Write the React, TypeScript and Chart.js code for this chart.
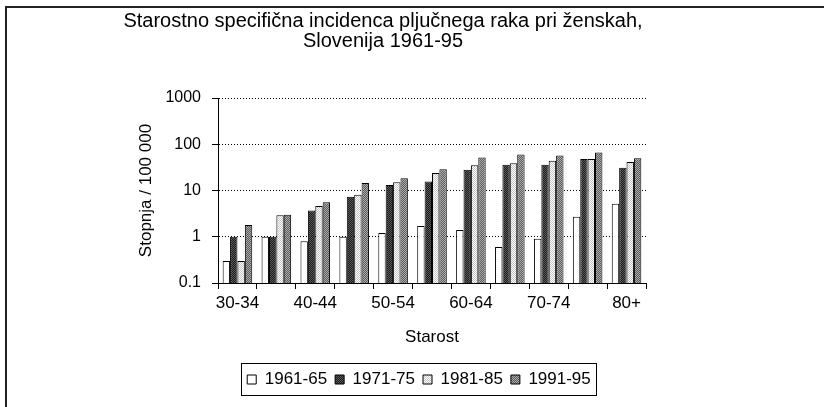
import React, { useEffect, useRef } from 'react';
import { Chart, registerables } from 'chart.js';

Chart.register(...registerables);

const categories = ['30-34', '35-39', '40-44', '45-49', '50-54', '55-59', '60-64', '65-69', '70-74', '75-79', '80+'];
const shownLabels = ['30-34', '', '40-44', '', '50-54', '', '60-64', '', '70-74', '', '80+'];
const yTicks = [0.1, 1, 10, 100, 1000];
const yTickLabels = ['0.1', '1', '10', '100', '1000'];
const seriesNames = ['1961-65', '1971-75', '1981-85', '1991-95'];
const s1961 = [0.3, 1.0, 0.8, 1.0, 1.2, 1.7, 1.4, 0.6, 0.9, 2.7, 5.2];
const s1971 = [1.0, 1.0, 3.7, 7.3, 13.2, 15.7, 28, 36, 36, 48, 31];
const s1981 = [0.3, 2.9, 4.6, 8.1, 15, 24, 35, 39, 44, 48, 41.5];
const s1991 = [1.8, 3.0, 5.6, 14.5, 18.4, 28.7, 52, 60, 57, 66, 50];

const FONT = '"Liberation Sans", Arial, sans-serif';
const LEGEND_CENTER = 419;

function makePattern(ctx: CanvasRenderingContext2D, base: string, dot: string) {
  const c = document.createElement('canvas');
  c.width = 2;
  c.height = 2;
  const x = c.getContext('2d')!;
  x.fillStyle = base;
  x.fillRect(0, 0, 2, 2);
  x.fillStyle = dot;
  x.fillRect(0, 0, 1, 1);
  x.fillRect(1, 1, 1, 1);
  return ctx.createPattern(c, 'repeat')!;
}

const legendTweak = {
  id: 'legendTweak',
  afterLayout(chart: any) {
    const lg = chart.legend;
    if (!lg) return;
    const dx = LEGEND_CENTER - (lg.left + lg.right) / 2;
    lg.left += dx;
    lg.right += dx;
  },
  afterDraw(chart: any) {
    const lg = chart.legend;
    if (!lg || !lg.legendHitBoxes || !lg.legendHitBoxes.length) return;
    const hb = lg.legendHitBoxes;
    const first = hb[0];
    const last = hb[hb.length - 1];
    const ctx = chart.ctx;
    ctx.save();
    ctx.strokeStyle = '#000';
    ctx.lineWidth = 1;
    const l = Math.round(first.left - 6) + 0.5;
    const r = Math.round(last.left + last.width + 5) + 0.5;
    const t = Math.round(first.top - 8) + 0.5;
    const b = Math.round(first.top + first.height + 7) + 0.5;
    ctx.strokeRect(l, t, r - l, b - t);
    ctx.restore();
  },
};

export default function App() {
  const ref = useRef<HTMLCanvasElement | null>(null);

  useEffect(() => {
    const canvas = ref.current!;
    const ctx = canvas.getContext('2d')!;
    Chart.defaults.font.family = FONT;
    const fills = [
      '#ffffff',
      makePattern(ctx, '#1c1c1c', '#5a5a5a'),
      makePattern(ctx, '#ffffff', '#c4c4c4'),
      makePattern(ctx, '#5c5c5c', '#ababab'),
    ];
    const values = [s1961, s1971, s1981, s1991];
    const chart = new Chart(canvas, {
      type: 'bar',
      data: {
        labels: categories,
        datasets: seriesNames.map((name, i) => ({
          label: name,
          data: values[i],
          backgroundColor: fills[i] as any,
          borderColor: '#000',
          borderWidth: 1,
          categoryPercentage: 0.76,
          barPercentage: 1,
        })),
      },
      options: {
        responsive: false,
        animation: false,
        devicePixelRatio: 1,
        layout: { padding: { left: 120, right: 178, top: 0, bottom: 9 } },
        plugins: {
          title: {
            display: true,
            text: ['Starostno specifična incidenca pljučnega raka pri ženskah,', 'Slovenija 1961-95'],
            color: '#000',
            font: { size: 20, weight: 'normal', lineHeight: 1.0, family: FONT },
            padding: { top: 11, bottom: 47 },
          },
          legend: {
            display: true,
            position: 'bottom',
            labels: {
              color: '#000',
              font: { size: 17, family: FONT },
              boxWidth: 9,
              boxHeight: 9,
              padding: 8,
            },
          },
          tooltip: { enabled: false },
        },
        scales: {
          x: {
            type: 'category',
            offset: true,
            grid: {
              display: true,
              drawOnChartArea: false,
              drawTicks: true,
              tickLength: 6,
              color: '#000',
              offset: true,
            },
            border: { display: true, color: '#000', width: 1 },
            ticks: {
              autoSkip: false,
              maxRotation: 0,
              minRotation: 0,
              padding: 4,
              color: '#000',
              font: { size: 17, family: FONT },
              callback: (_v: any, i: number) => shownLabels[i],
            },
            title: {
              display: true,
              text: 'Starost',
              color: '#000',
              font: { size: 17, family: FONT },
              padding: { top: 0, bottom: 15 },
            },
            afterFit: (s: any) => {
              s.height = 80;
            },
          },
          y: {
            type: 'logarithmic',
            min: 0.1,
            max: 1000,
            afterBuildTicks: (s: any) => {
              s.ticks = yTicks.map((v) => ({ value: v }));
            },
            afterFit: (s: any) => {
              s.width = 98;
            },
            ticks: {
              color: '#000',
              padding: 11,
              font: { size: 16, family: FONT },
              callback: (_v: any, i: number) => yTickLabels[i],
            },
            grid: {
              color: '#000',
              lineWidth: 1,
              tickLength: 6,
              tickColor: '#000',
              tickBorderDash: [],
            },
            border: { display: true, color: '#000', width: 1, dash: [1, 2] },
            title: {
              display: true,
              text: 'Stopnja / 100 000',
              color: '#000',
              font: { size: 17, family: FONT },
              padding: { top: 16, bottom: 0 },
            },
          },
        },
      },
      plugins: [legendTweak],
    });
    return () => chart.destroy();
  }, []);

  return (
    <div style={{ position: 'fixed', left: 0, top: 0, width: 824, height: 407, background: '#fff', overflow: 'hidden' }}>
      <canvas ref={ref} width={824} height={407} style={{ position: 'absolute', left: 0, top: 0, width: 824, height: 407 }} />
      <div style={{ position: 'absolute', left: 5, top: 6, width: 819, height: 2, background: '#222' }} />
      <div style={{ position: 'absolute', left: 5, top: 6, width: 2, height: 401, background: '#222' }} />
    </div>
  );
}
